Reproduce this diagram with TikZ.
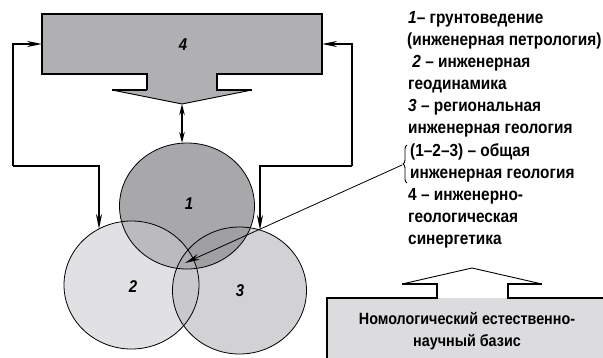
\documentclass[tikz,border=0pt]{standalone}
\usepackage{fontspec}
\setmainfont{Liberation Sans}[FakeStretch=0.88]
\usetikzlibrary{arrows.meta,decorations.pathreplacing}
\definecolor{cfour}{HTML}{B0B0B2}
\definecolor{cone}{HTML}{A8A8AA}
\definecolor{ctwo}{HTML}{E1E1E3}
\definecolor{cthree}{HTML}{D2D2D4}
\definecolor{conetwo}{HTML}{BBBBBD}
\definecolor{conethree}{HTML}{A0A0A2}
\definecolor{ctwothree}{HTML}{C9C9CB}
\definecolor{call}{HTML}{AEAEB0}
\definecolor{cbase}{HTML}{DCDCDE}
\begin{document}
\begin{tikzpicture}[x=1pt,y=-1pt,
  arr/.style={line width=1.8pt,-{Stealth[length=15pt,width=6pt]}},
  dbl/.style={line width=1.8pt,{Stealth[length=11pt,width=5.5pt]}-{Stealth[length=11pt,width=5.5pt]}},
  thin arr/.style={line width=0.8pt,-{Stealth[length=15pt,width=6pt]}},
  legend/.style={anchor=base west,inner sep=0pt,font=\fontsize{17.5}{20}\selectfont\bfseries},
  lab/.style={inner sep=0pt,font=\fontsize{17}{18}\selectfont\bfseries\itshape},
  outline/.style={line width=1.9pt,line join=miter},
  circ/.style={line width=0.8pt}]
\useasboundingbox (0,0) rectangle (603,357);
\clip (0,0) rectangle (603,357);
% ---- top block 4 ----
\fill[cfour] (42,14) -- (322,14) -- (322,74) -- (217,74) -- (217,90) -- (252,90) -- (182,104) -- (112,90) -- (147,90) -- (147,74) -- (42,74) -- cycle;
\draw[outline] (147,90) -- (112,90);
\draw[line width=0.9pt] (112,90) -- (182,104) -- (252,90);
\draw[outline] (252,90) -- (217,90) -- (217,74) -- (322,74) -- (322,14) -- (42,14) -- (42,74) -- (147,74) -- (147,90);
\node[lab] (l4) at (183,45) {4};
% ---- circles ----
\def\cA{(187,206) ellipse [x radius=67.5pt, y radius=63pt]}
\def\cB{(131.5,285) ellipse [x radius=67.5pt, y radius=64pt]}
\def\cC{(239.5,290.5) ellipse [x radius=67pt, y radius=63.5pt]}
\fill[ctwo] \cB;
\fill[cthree] \cC;
\begin{scope}\clip \cB; \fill[ctwothree] \cC; \end{scope}
\fill[cone] \cA;
\begin{scope}\clip \cA; \fill[conetwo] \cB; \end{scope}
\begin{scope}\clip \cA; \fill[conethree] \cC; \end{scope}
\begin{scope}\clip \cA; \clip \cB; \fill[call] \cC; \end{scope}
\draw[circ] \cA;
\draw[circ] \cB;
\draw[circ] \cC;
\node[lab] (l1) at (189,204) {1};
\node[lab] (l2) at (133,287) {2};
\node[lab] (l3) at (240,291) {3};
% ---- connectors ----
\coordinate (tip4) at (182,104);
\coordinate (top1) at (187,143);
\draw[dbl] (tip4) -- (tip4 |- top1);
\coordinate (Lin) at (42,44);
\coordinate (Lout) at (99,229);
\draw[arr] (13,166) -- (13,44) -- (Lin);
\draw[arr] (13,166) -- (99,166) -- (Lout);
\coordinate (Rin) at (322,44);
\coordinate (Rout) at (260,230);
\draw[arr] (352,166) -- (352,44) -- (Rin);
\draw[arr] (352,166) -- (260,166) -- (Rout);
% ---- legend ----
\node[legend] (t1) at (408,23) {\textit{1}– грунтоведение};
\node[legend] (t2) at (407,45) {(инженерная петрология)};
\node[legend] (t3) at (408,67) {\ \textit{2} – инженерная};
\node[legend] (t4) at (408,89) {геодинамика};
\node[legend] (t5) at (408,111) {\textit{3} – региональная};
\node[legend] (t6) at (408,133) {инженерная геология};
\node[legend] (t7) at (410,156) {(1–2–3) – общая};
\node[legend] (t8) at (410,178) {инженерная геология};
\node[legend] (t9) at (408,200) {4 – инженерно-};
\node[legend] (t10) at (408,222) {геологическая};
\node[legend] (t11) at (408,244) {синергетика};
\draw[line width=0.9pt,decorate,decoration={brace,amplitude=4pt}] (407,183) -- (407,145);
\coordinate (brace) at (402,165);
\coordinate (core) at (185,263);
\draw[thin arr] (brace) -- (core);
% ---- base block ----
\fill[cbase] (327,298) rectangle (610,365);
\draw[outline] (327,365) -- (327,298) -- (437,298) -- (437,284) -- (402,284);
\draw[line width=0.9pt] (402,284) -- (472,268) -- (542,284);
\draw[outline] (542,284) -- (508,284) -- (508,298) -- (610,298);
\node[inner sep=0pt,align=center,font=\fontsize{16.3}{22.5}\selectfont\bfseries] (base) at (467,331) {Номологический естественно-\\научный базис};
\end{tikzpicture}
\end{document}
